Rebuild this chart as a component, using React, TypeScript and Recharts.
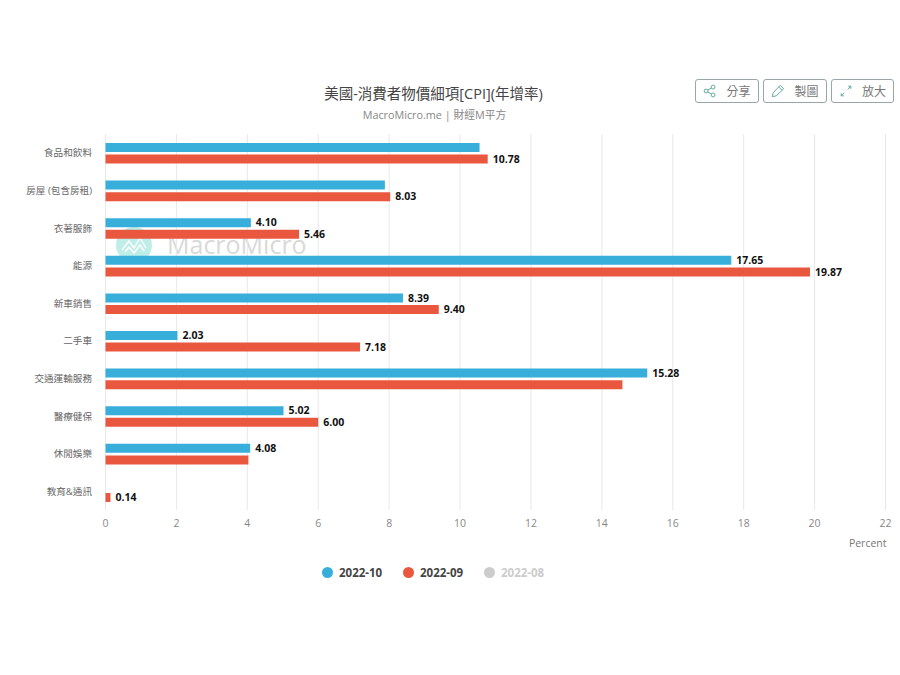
import { BarChart, Bar, XAxis, YAxis, CartesianGrid, LabelList } from 'recharts'

const categories = ['食品和飲料', '房屋 (包含房租)', '衣著服飾', '能源', '新車銷售', '二手車', '交通運輸服務', '醫療健保', '休閒娛樂', '教育&通訊']
const oct = [10.55, 7.88, 4.1, 17.65, 8.39, 2.03, 15.28, 5.02, 4.08, null]
const sep = [10.78, 8.03, 5.46, 19.87, 9.4, 7.18, 14.58, 6.0, 4.03, 0.14]
// the original hides labels that collide with the neighbouring bar
const octLabels = [null, null, '4.10', '17.65', '8.39', '2.03', '15.28', '5.02', '4.08', null]
const sepLabels = ['10.78', '8.03', '5.46', '19.87', '9.40', '7.18', null, '6.00', null, '0.14']
const xTicks = [0, 2, 4, 6, 8, 10, 12, 14, 16, 18, 20, 22]
const legendItems = [
  { name: '2022-10', color: '#38aedb', text: '#444', left: 322 },
  { name: '2022-09', color: '#e9573f', text: '#444', left: 403 },
  { name: '2022-08', color: '#cccccc', text: '#cccccc', left: 484 },
]
const buttons = [
  { name: '分享', left: 695, width: 64, icon: 'share' },
  { name: '製圖', left: 763, width: 64, icon: 'pen' },
  { name: '放大', left: 831, width: 63, icon: 'expand' },
]

const rows = categories.map((name, i) => ({
  name,
  oct: oct[i],
  sep: sep[i],
  octLabel: octLabels[i],
  sepLabel: sepLabels[i],
}))

const FONT = '"Open Sans", "Noto Sans CJK TC", sans-serif'
const labelStyle = { fill: '#111', fontSize: 10.5, fontWeight: 700, fontFamily: FONT }

// plain text tick, the default one wraps the long category
function CategoryTick({ x, y, payload }: any) {
  return (
    <text x={x} y={y} dy={3.5} textAnchor="end" fill="#666" fontSize={9.6} fontFamily={FONT}>
      {payload.value}
    </text>
  )
}

function ButtonIcon({ icon }: { icon: string }) {
  return (
    <svg width={14} height={14} viewBox="0 0 16 16" fill="none" stroke="#5fa89a" strokeWidth={1.1}>
      {icon === 'share' && (
        <>
          <circle cx={3.5} cy={8} r={2.2} />
          <circle cx={11.5} cy={3.5} r={2.2} />
          <circle cx={11.5} cy={12.5} r={2.2} />
          <path d="M5.5 7 L9.5 4.6 M5.5 9 L9.5 11.4" />
        </>
      )}
      {icon === 'pen' && <path d="M1.5 14.5 L2.5 10 L10.5 1.5 L14.5 5.5 L6 13.5 Z M9 3.5 L12.5 7" />}
      {icon === 'expand' && <path d="M2.5 13.5 L6 10 M10 6 L13.5 2.5 M10.5 2.5 H13.5 V5.5 M2.5 10.5 V13.5 H5.5" />}
    </svg>
  )
}

export default function App() {
  return (
    <div style={{ position: 'absolute', left: 0, top: 0, width: 900, height: 675, background: '#fff', fontFamily: FONT, overflow: 'hidden' }}>
      <div style={{ position: 'absolute', left: 0, width: 867, top: 84, textAlign: 'center', fontSize: 14.5, color: '#444', lineHeight: '20px' }}>
        美國-消費者物價細項[CPI](年增率)
      </div>
      <div style={{ position: 'absolute', left: 0, width: 869, top: 107, textAlign: 'center', fontSize: 10.8, color: '#888', lineHeight: '15px' }}>
        MacroMicro.me | 財經M平方
      </div>

      {buttons.map((b) => (
        <div
          key={b.name}
          style={{
            position: 'absolute', left: b.left, top: 79, width: b.width, height: 24, boxSizing: 'border-box',
            border: '1px solid #9aa5a5', borderRadius: 3, display: 'flex', alignItems: 'center', justifyContent: 'center',
            gap: 9, fontSize: 12, color: '#777',
          }}
        >
          <ButtonIcon icon={b.icon} />
          <span>{b.name}</span>
        </div>
      ))}

      {/* watermark sits behind the transparent chart */}
      <svg style={{ position: 'absolute', left: 116, top: 227 }} width={36} height={36} viewBox="0 0 36 36">
        <circle cx={18} cy={18} r={18} fill="#bfeee9" />
        <path d="M6 23 L13 14 L18 21 L24 11 L30 21 M9 25 L13 20 L18 26 L24 18 L28 24" fill="none" stroke="#fff" strokeWidth={1.4} />
      </svg>
      <div style={{ position: 'absolute', left: 167, top: 226, fontSize: 25, lineHeight: '36px', color: '#d9d9d9', fontFamily: '"Open Sans", sans-serif' }}>
        MacroMicro
      </div>

      <div style={{ position: 'absolute', left: 0, top: 0 }}>
        <BarChart
          width={900}
          height={675}
          data={rows}
          layout="vertical"
          barSize={9}
          barGap={2.6}
          margin={{ top: 134, right: 14.5, bottom: 129, left: 0 }}
        >
          <CartesianGrid horizontal={false} stroke="#e8e8e8" />
          <XAxis
            type="number"
            domain={[0, 22]}
            ticks={xTicks}
            interval={0}
            axisLine={false}
            tickLine={false}
            height={36}
            tick={{ fill: '#888', fontSize: 10.5, fontFamily: FONT }}
            tickMargin={4}
            label={{ value: 'Percent', position: 'insideBottomRight', offset: -1, fill: '#777', fontSize: 10.5, fontFamily: FONT }}
          />
          <YAxis
            type="category"
            dataKey="name"
            width={105.5}
            interval={0}
            axisLine={false}
            tickLine={false}
            tickMargin={13.5}
            tickSize={0}
            tick={<CategoryTick />}
          />
          <Bar dataKey="oct" fill="#38aedb" isAnimationActive={false}>
            <LabelList dataKey="octLabel" position="right" offset={5} style={labelStyle} />
          </Bar>
          <Bar dataKey="sep" fill="#e9573f" isAnimationActive={false}>
            <LabelList dataKey="sepLabel" position="right" offset={5} style={labelStyle} />
          </Bar>
        </BarChart>
      </div>

      {legendItems.map((l) => (
        <div key={l.name} style={{ position: 'absolute', left: l.left, top: 564, height: 16, display: 'flex', alignItems: 'center', gap: 6, fontSize: 11.5, fontWeight: 700, color: l.text }}>
          <span style={{ width: 11, height: 11, borderRadius: 6, background: l.color, display: 'inline-block' }} />
          {l.name}
        </div>
      ))}
    </div>
  )
}
